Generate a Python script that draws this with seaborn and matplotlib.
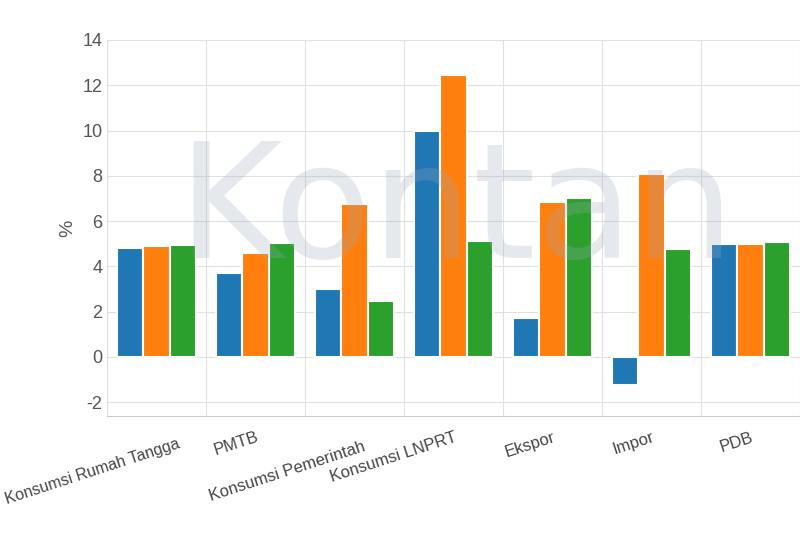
import pandas as pd
import matplotlib.pyplot as plt
import matplotlib.transforms as mtrans
import seaborn as sns

categories = ["Konsumsi Rumah Tangga", "PMTB", "Konsumsi Pemerintah", "Konsumsi LNPRT",
              "Ekspor", "Impor", "PDB"]
series_names = ["A", "B", "C"]
values_a = [4.8, 3.7, 3.0, 10.0, 1.7, -1.25, 5.0]
values_b = [4.9, 4.6, 6.75, 12.45, 6.85, 8.1, 5.0]
values_c = [4.95, 5.05, 2.45, 5.1, 7.0, 4.75, 5.07]
y_ticks = list(range(-2, 15, 2))

df = pd.DataFrame({
    "kategori": categories * 3,
    "seri": [s for s in series_names for _ in categories],
    "nilai": values_a + values_b + values_c,
})

sns.set_style("white")
plt.rcParams["font.family"] = ["Liberation Sans", "DejaVu Sans"]
fig = plt.figure(figsize=(8, 5.33), dpi=100)
ax = fig.add_axes([0.134, 0.22, 0.866, 0.705])
sns.barplot(data=df, x="kategori", y="nilai", hue="seri", palette=["#1f77b4", "#ff7f0e", "#2ca02c"],
            width=0.8, saturation=1, linewidth=1.5, edgecolor="white", ax=ax, legend=False)

ax.set_ylim(-2.6, 14)
ax.set_yticks(y_ticks)
ax.set_yticklabels([str(t) for t in y_ticks])
ax.set_xlim(-0.5, 6.5)
ax.set_xticks([i + 0.5 for i in range(-1, 7)], minor=True)
ax.grid(True, axis="y", color="#e0e0e0")
ax.grid(True, axis="x", which="minor", color="#e0e0e0")
ax.set_axisbelow(True)
ax.tick_params(axis="x", which="major", length=0, pad=10)
ax.tick_params(axis="x", which="minor", length=6, color="#cccccc")
ax.tick_params(axis="y", length=0, labelsize=13, colors="#555555")
offsets = {0: (0.2, -0.07), 2: (0.08, -0.1)}
for i, lbl in enumerate(ax.get_xticklabels()):
    lbl.set_rotation(18)
    lbl.set_ha("right")
    lbl.set_rotation_mode("anchor")
    lbl.set_fontsize(11.5 if i == 0 else 12)
    lbl.set_color("#444444")
    dx, dy = offsets.get(i, (0, 0))
    lbl.set_transform(lbl.get_transform() + mtrans.ScaledTranslation(dx, dy, fig.dpi_scale_trans))
ax.set_xlabel("")
ax.set_ylabel("%", fontsize=14, color="#555555")
for s in ["top", "right", "left"]:
    ax.spines[s].set_visible(False)
ax.spines["bottom"].set_color("#cccccc")

fig.text(0.57, 0.6, "Kontan", fontsize=115, color="#9aa8b8", alpha=0.25,
         ha="center", va="center", zorder=0, family="DejaVu Sans")

fig.savefig("out.png")
